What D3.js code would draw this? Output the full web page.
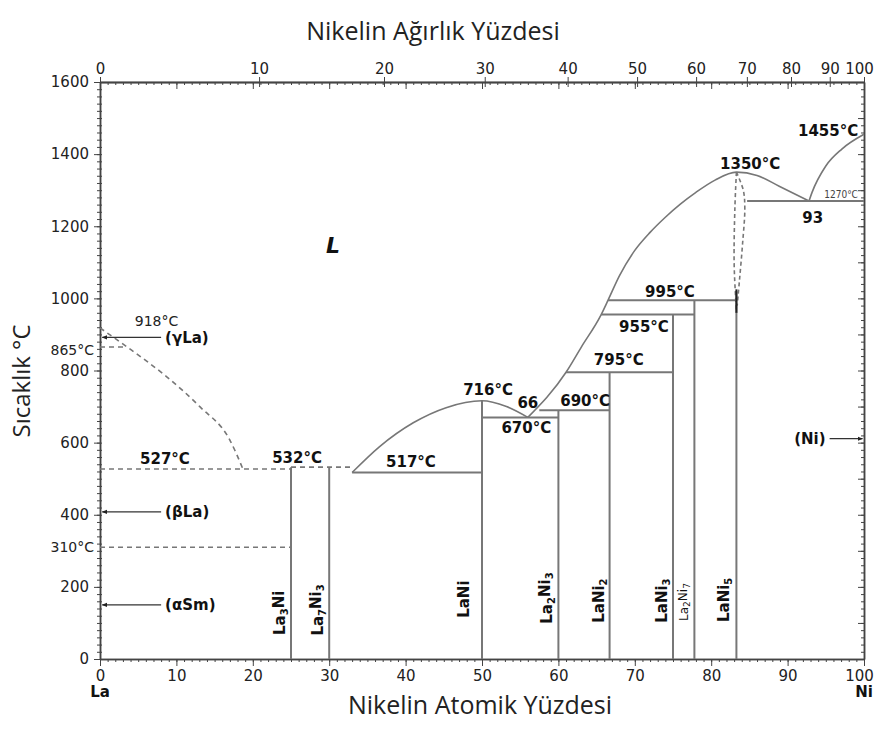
<!DOCTYPE html>
<html>
<head>
<meta charset="utf-8">
<script src="https://cdn.jsdelivr.net/npm/d3@7"></script>
<style>
  body { margin: 0; background: #fff; }
  text { font-family: "DejaVu Sans", Verdana, sans-serif; }
</style>
</head>
<body>
<svg id="chart" width="877" height="731"></svg>
<script>
// axis ticks
const atTickLabels = [0, 10, 20, 30, 40, 50, 60, 70, 80, 90, 100];
const wtTickLabels = [0, 10, 20, 30, 40, 50, 60, 70, 80, 90, 100];
const tempTickLabels = [0, 200, 400, 600, 800, 1000, 1200, 1400, 1600];

// atomic masses, used to place weight-percent ticks on the top axis
const massLa = 138.91, massNi = 58.69;

// intermetallic compounds: composition (at.% Ni) and top temperature
const compoundNames = ["La3Ni", "La7Ni3", "LaNi", "La2Ni3", "LaNi2", "LaNi3", "La2Ni7", "LaNi5"];
const compoundAt    = [25, 30, 50, 60, 66.7, 75, 77.8, 83.3];
const compoundTop   = [532, 532, 716, 690, 795, 955, 995, 1020];

// liquidus curves [at.% Ni, °C]
const liquidusLa   = [[0, 918], [3.5, 866], [8.7, 783], [13.1, 699], [17, 607], [18.7, 527]];
const liquidusLaNi = [[33, 517], [36.6, 589], [41, 655], [45.3, 697], [50, 716], [53.2, 700], [56, 670]];
const liquidusMid  = [[56, 670], [61, 795], [63, 865], [65.6, 955], [66.5, 995], [68, 1063],
                      [70, 1133], [72, 1183], [74, 1225], [76, 1262], [78, 1294], [80.5, 1328],
                      [83.3, 1350], [86, 1341], [88.9, 1311], [92.8, 1270]];
const liquidusNi   = [[92.8, 1270], [93.2, 1294], [95, 1367], [97.1, 1414], [100, 1455]];
// LaNi5 homogeneity range (dashed)
const laNi5Left  = [[83.3, 1350], [83.1, 1250], [83.0, 1100], [83.2, 1000], [83.3, 960]];
const laNi5Right = [[83.3, 1350], [84.2, 1300], [84.4, 1250], [84.1, 1150], [83.7, 1050], [83.4, 980]];

// invariant lines [from at.%, to at.%, °C]
const solidLines  = [[33, 50, 517], [50, 60, 670], [57.5, 66.7, 690], [61, 75, 795],
                     [65.6, 77.8, 955], [66.5, 83.3, 995], [84.7, 100, 1270]];
const dashedLines = [[0, 25, 527], [25, 33, 532], [0, 3.5, 865], [0, 25, 310]];

// temperature annotations [text, at.%, °C]
const boldLabels = [["527°C", 8.5, 555], ["532°C", 25.8, 558], ["517°C", 40.7, 547],
                    ["716°C", 50.8, 747], ["66", 56.0, 710], ["670°C", 55.8, 643],
                    ["690°C", 63.5, 716], ["795°C", 67.9, 829], ["955°C", 71.2, 921],
                    ["995°C", 74.6, 1018], ["1350°C", 85.1, 1373], ["1455°C", 95.3, 1464],
                    ["93", 93.3, 1223]];
const plainLabels = [["918°C", 7.4, 937]];
const sideLabels  = [["865°C", 857], ["310°C", 310]];

// allotrope arrows [text, °C, arrow from at.%, arrow to at.%]
const arrows = [["(γLa)", 892, 8.0, 0.3], ["(βLa)", 408, 8.0, 0.3], ["(αSm)", 150, 8.0, 0.3],
                ["(Ni)", 611, 95.5, 99.8]];

const svg = d3.select("#chart");
const x = d3.scaleLinear().domain([0, 100]).range([100, 864]);
const y = d3.scaleLinear().domain([0, 1600]).range([659, 82]);
const wtToAt = w => 100 * (w / massNi) / (w / massNi + (100 - w) / massLa);

const lineCol = "#777";
const axisCol = "#444";

svg.append("defs").append("marker")
    .attr("id", "arrow")
    .attr("viewBox", "0 0 10 10")
    .attr("refX", 9).attr("refY", 5)
    .attr("markerWidth", 4).attr("markerHeight", 4)
    .attr("orient", "auto")
    .append("path").attr("d", "M0,1 L10,5 L0,9 z").attr("fill", "#222");

// ---- axes ----
function styleAxis(g) {
    g.select(".domain").attr("stroke", axisCol).attr("stroke-width", 1.5);
    g.selectAll(".tick line").attr("stroke", axisCol);
    g.selectAll(".tick text").attr("fill", "#222").style("font-size", "15px")
        .style("font-family", "'DejaVu Sans', Verdana, sans-serif");
}

const minorAt = d3.range(0, 101, 1);
const minorT = d3.range(0, 1601, 20);

// bottom
svg.append("g").attr("transform", `translate(0,${y(0)})`)
    .call(d3.axisBottom(x).tickValues(minorAt).tickSize(3).tickFormat("").tickSizeOuter(0))
    .call(styleAxis);
const bottomAxis = svg.append("g").attr("transform", `translate(0,${y(0)})`)
    .call(d3.axisBottom(x).tickValues(atTickLabels).tickSize(7).tickPadding(4).tickSizeOuter(0))
    .call(styleAxis);
bottomAxis.selectAll(".tick text").filter(d => d === 100).attr("dx", -5);

// top (weight percent ticks placed on the atomic scale)
svg.append("g").attr("transform", `translate(0,${y(1600)})`)
    .call(d3.axisBottom(x).tickValues(minorAt).tickSize(3).tickFormat("").tickSizeOuter(0))
    .call(styleAxis);
svg.append("g").attr("transform", `translate(0,${y(1600)})`)
    .call(d3.axisBottom(x).tickValues(atTickLabels).tickSize(7).tickFormat("").tickSizeOuter(0))
    .call(styleAxis);
const topAxis = svg.append("g").attr("transform", `translate(0,${y(1600)})`)
    .call(d3.axisTop(x).tickValues(wtTickLabels.map(wtToAt))
        .tickFormat((d, i) => wtTickLabels[i]).tickSize(5).tickPadding(3).tickSizeOuter(0))
    .call(styleAxis);
topAxis.selectAll(".tick line").attr("y1", 5);
topAxis.selectAll(".tick text").filter((d, i) => i === wtTickLabels.length - 1).attr("dx", -5);

// left
svg.append("g").attr("transform", `translate(${x(0)},0)`)
    .call(d3.axisLeft(y).tickValues(minorT).tickSize(3).tickFormat("").tickSizeOuter(0))
    .call(styleAxis)
    .selectAll(".tick line").attr("x1", 2);
svg.append("g").attr("transform", `translate(${x(0)},0)`)
    .call(d3.axisLeft(y).tickValues(tempTickLabels).tickFormat(d3.format("d"))
        .tickSize(6).tickPadding(5).tickSizeOuter(0))
    .call(styleAxis);

// right
svg.append("g").attr("transform", `translate(${x(100)},0)`)
    .call(d3.axisLeft(y).tickValues(minorT).tickSize(3).tickFormat("").tickSizeOuter(0))
    .call(styleAxis);
svg.append("g").attr("transform", `translate(${x(100)},0)`)
    .call(d3.axisLeft(y).tickValues(d3.range(0, 1601, 100)).tickSize(6).tickFormat("").tickSizeOuter(0))
    .call(styleAxis);

// ---- phase boundaries ----
const line = d3.line().x(d => x(d[0])).y(d => y(d[1])).curve(d3.curveMonotoneX);
const lineV = d3.line().x(d => x(d[0])).y(d => y(d[1])).curve(d3.curveCatmullRom.alpha(0.5));

const plot = svg.append("g").attr("fill", "none").attr("stroke", lineCol).attr("stroke-width", 1.6);

plot.append("path").attr("d", line(liquidusLa)).attr("stroke-dasharray", "5,4");
plot.append("path").attr("d", line(liquidusLaNi));
plot.append("path").attr("d", line(liquidusMid));
plot.append("path").attr("d", line(liquidusNi));
plot.append("path").attr("d", lineV(laNi5Left)).attr("stroke-dasharray", "4,3");
plot.append("path").attr("d", lineV(laNi5Right)).attr("stroke-dasharray", "4,3");

plot.selectAll(".hs").data(solidLines).enter().append("line")
    .attr("x1", d => x(d[0])).attr("x2", d => x(d[1]))
    .attr("y1", d => y(d[2])).attr("y2", d => y(d[2]))
    .attr("stroke-width", 2);

plot.selectAll(".hd").data(dashedLines).enter().append("line")
    .attr("x1", d => x(d[0])).attr("x2", d => x(d[1]))
    .attr("y1", d => y(d[2])).attr("y2", d => y(d[2]))
    .attr("stroke-dasharray", "5,4");

plot.selectAll(".cv").data(compoundAt).enter().append("line")
    .attr("x1", d => x(d)).attr("x2", d => x(d))
    .attr("y1", y(0)).attr("y2", (d, i) => y(compoundTop[i]))
    .attr("stroke-width", 2);

// thick part of LaNi5 line near 995°C
plot.append("line")
    .attr("x1", x(83.3)).attr("x2", x(83.3))
    .attr("y1", y(960)).attr("y2", y(1025))
    .attr("stroke", "#222").attr("stroke-width", 2);

// ---- compound labels (rotated, with subscripts) ----
const labelShift = [-11, -12, -18, -12, -11, -11, -11, -13];
const labelT = [128, 136, 166, 169, 162, 162, 158, 164];

compoundNames.forEach((name, i) => {
    const small = name === "La2Ni7";
    const t = svg.append("text")
        .attr("transform", `translate(${x(compoundAt[i]) + labelShift[i]},${y(labelT[i])}) rotate(-90)`)
        .attr("text-anchor", "middle")
        .attr("dy", "0.36em")
        .attr("fill", "#111")
        .style("font-size", small ? "12px" : "15px")
        .style("font-weight", small ? "normal" : "bold");
    const parts = name.match(/[A-Za-z]+|\d+/g);
    let sub = false;
    parts.forEach(p => {
        const isNum = /\d/.test(p);
        const ts = t.append("tspan").text(p);
        if (isNum && !sub) { ts.attr("dy", "0.3em").style("font-size", small ? "9px" : "10px"); sub = true; }
        else if (!isNum && sub) { ts.attr("dy", "-0.3em"); sub = false; }
    });
});

// ---- annotations ----
svg.selectAll(".bl").data(boldLabels).enter().append("text")
    .attr("x", d => x(d[1])).attr("y", d => y(d[2]))
    .attr("text-anchor", "middle").attr("dy", "0.36em")
    .attr("fill", "#111").style("font-size", "15px").style("font-weight", "bold")
    .text(d => d[0]);

svg.selectAll(".pl").data(plainLabels).enter().append("text")
    .attr("x", d => x(d[1])).attr("y", d => y(d[2]))
    .attr("text-anchor", "middle").attr("dy", "0.36em")
    .attr("fill", "#222").style("font-size", "14px")
    .text(d => d[0]);

svg.selectAll(".sl").data(sideLabels).enter().append("text")
    .attr("x", x(0) - 6).attr("y", d => y(d[1]))
    .attr("text-anchor", "end").attr("dy", "0.36em")
    .attr("fill", "#222").style("font-size", "14px")
    .text(d => d[0]);

svg.append("text")
    .attr("x", x(97.0)).attr("y", y(1287)).attr("dy", "0.36em")
    .attr("text-anchor", "middle").attr("fill", "#444")
    .style("font-size", "10px").style("font-family", "'DejaVu Sans Condensed', sans-serif")
    .text("1270°C");

svg.append("text")
    .attr("x", x(30.5)).attr("y", y(1148)).attr("dy", "0.36em")
    .attr("text-anchor", "middle").attr("fill", "#111")
    .style("font-size", "22px").style("font-weight", "bold").style("font-style", "italic")
    .text("L");

// arrows
arrows.forEach(a => {
    svg.append("line")
        .attr("x1", x(a[2])).attr("x2", x(a[3]))
        .attr("y1", y(a[1])).attr("y2", y(a[1]))
        .attr("stroke", "#333").attr("stroke-width", 1.3)
        .attr("marker-end", "url(#arrow)");
    const left = a[2] > a[3];
    svg.append("text")
        .attr("x", left ? x(a[2]) + 4 : x(a[2]) - 4)
        .attr("y", y(a[1])).attr("dy", "0.36em")
        .attr("text-anchor", left ? "start" : "end")
        .attr("fill", "#111").style("font-size", "15px").style("font-weight", "bold")
        .text(a[0]);
});

// ---- titles ----
svg.append("text").attr("x", 433).attr("y", 31).attr("dy", "0.36em")
    .attr("text-anchor", "middle").attr("fill", "#222")
    .style("font-family", "'Open Sans', sans-serif").style("font-size", "25px")
    .text("Nikelin Ağırlık Yüzdesi");

svg.append("text").attr("x", 480).attr("y", 705).attr("dy", "0.36em")
    .attr("text-anchor", "middle").attr("fill", "#222")
    .style("font-family", "'Open Sans', sans-serif").style("font-size", "25px")
    .text("Nikelin Atomik Yüzdesi");

svg.append("text")
    .attr("transform", "translate(21,381) rotate(-90)")
    .attr("dy", "0.36em")
    .attr("text-anchor", "middle").attr("fill", "#222")
    .style("font-family", "'Open Sans', sans-serif").style("font-size", "24px")
    .text("Sıcaklık °C");

svg.append("text").attr("x", x(0)).attr("y", 692).attr("dy", "0.36em")
    .attr("text-anchor", "middle").attr("fill", "#111")
    .style("font-size", "15px").style("font-weight", "bold").text("La");
svg.append("text").attr("x", x(100)).attr("y", 692).attr("dy", "0.36em")
    .attr("text-anchor", "middle").attr("fill", "#111")
    .style("font-size", "15px").style("font-weight", "bold").text("Ni");
</script>
</body>
</html>
